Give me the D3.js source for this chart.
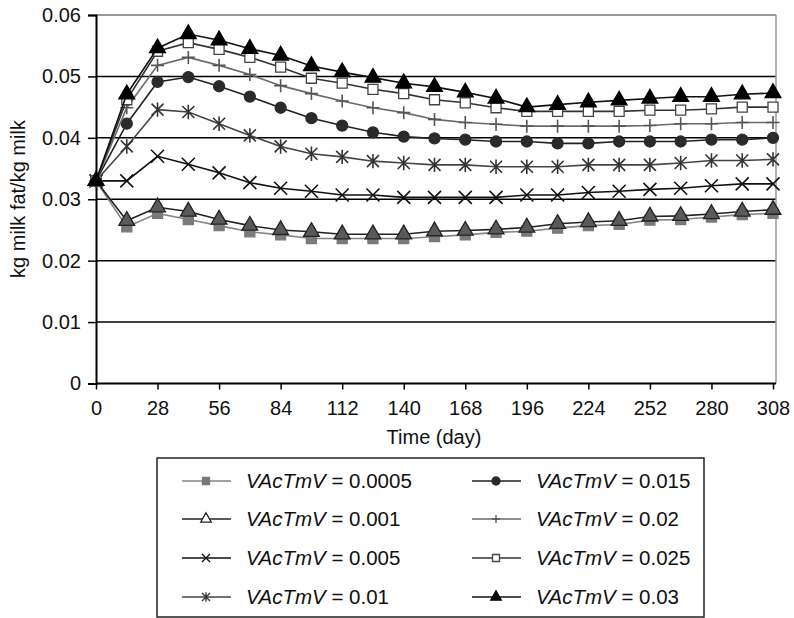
<!DOCTYPE html>
<html><head><meta charset="utf-8">
<script src="https://cdn.jsdelivr.net/npm/d3@7"></script>
<style>body{margin:0;background:#fff}svg{display:block}text{font-family:"Liberation Sans",Arial,sans-serif;fill:#111}</style>
</head><body><svg id="c" width="794" height="618"></svg>
<script>
const days = [0,14,28,42,56,70,84,98,112,126,140,154,168,182,196,210,224,238,252,266,280,294,308];
const xTicks = [0,28,56,84,112,140,168,196,224,252,280,308];
const yTicks = [0,0.01,0.02,0.03,0.04,0.05,0.06];
const seriesNames = ["0.0005","0.001","0.005","0.01","0.015","0.02","0.025","0.03"];
const s0005 = [0.0330,0.0255,0.0277,0.0267,0.0257,0.0247,0.0242,0.0236,0.0236,0.0236,0.0236,0.0239,0.0242,0.0246,0.0248,0.0253,0.0257,0.0259,0.0266,0.0267,0.0271,0.0275,0.0277];
const s001  = [0.0330,0.0265,0.0287,0.0280,0.0267,0.0257,0.0250,0.0247,0.0243,0.0243,0.0243,0.0248,0.0249,0.0251,0.0254,0.0260,0.0263,0.0265,0.0272,0.0273,0.0276,0.0280,0.0283];
const s005  = [0.0330,0.0330,0.0370,0.0357,0.0343,0.0327,0.0318,0.0313,0.0307,0.0307,0.0303,0.0303,0.0303,0.0303,0.0307,0.0307,0.0311,0.0313,0.0316,0.0318,0.0322,0.0325,0.0325];
const s01   = [0.0330,0.0386,0.0446,0.0442,0.0423,0.0404,0.0386,0.0374,0.0369,0.0362,0.0359,0.0356,0.0356,0.0353,0.0353,0.0353,0.0356,0.0356,0.0356,0.0359,0.0363,0.0363,0.0365];
const s015  = [0.0330,0.0423,0.0491,0.0499,0.0484,0.0467,0.0449,0.0432,0.0420,0.0409,0.0402,0.0399,0.0397,0.0394,0.0394,0.0391,0.0391,0.0394,0.0394,0.0394,0.0397,0.0397,0.0400];
const s02   = [0.0330,0.0449,0.0518,0.0531,0.0518,0.0503,0.0485,0.0472,0.0460,0.0449,0.0441,0.0430,0.0425,0.0422,0.0419,0.0419,0.0419,0.0419,0.0420,0.0423,0.0423,0.0425,0.0425];
const s025  = [0.0330,0.0462,0.0541,0.0555,0.0544,0.0531,0.0515,0.0497,0.0489,0.0479,0.0472,0.0462,0.0457,0.0449,0.0443,0.0443,0.0443,0.0443,0.0445,0.0445,0.0447,0.0450,0.0450];
const s03   = [0.0330,0.0471,0.0546,0.0569,0.0559,0.0545,0.0534,0.0517,0.0507,0.0498,0.0489,0.0483,0.0474,0.0464,0.0450,0.0454,0.0458,0.0461,0.0464,0.0467,0.0467,0.0471,0.0473];

const values = [s0005,s001,s005,s01,s015,s02,s025,s03];
const styles = [
  {line:"#858585", marker:"fsquare", fill:"#7a7a7a", stroke:"#7a7a7a", lfill:"#7a7a7a"},
  {line:"#222", marker:"triangle", fill:"#5a5a5a", stroke:"#222", lfill:"#fff"},
  {line:"#111", marker:"x", fill:"none", stroke:"#111"},
  {line:"#444", marker:"asterisk", fill:"none", stroke:"#333"},
  {line:"#222", marker:"circle", fill:"#2a2a2a", stroke:"#2a2a2a", lfill:"#2a2a2a"},
  {line:"#6a6a6a", marker:"plus", fill:"none", stroke:"#555"},
  {line:"#333", marker:"osquare", fill:"#fff", stroke:"#444", lfill:"#fff"},
  {line:"#111", marker:"triangle", fill:"#000", stroke:"#000", lfill:"#000"}
];

const svg = d3.select("#c");
const x = d3.scaleLinear().domain([0,308]).range([96,773]);
const y = d3.scaleLinear().domain([0,0.06]).range([383.5,15]);

// gridlines
svg.append("g").selectAll("line").data(yTicks.filter(d=>d>0)).join("line")
  .attr("x1",96).attr("x2",776).attr("y1",d=>y(d)).attr("y2",d=>y(d))
  .attr("stroke",d=>d===0.06?"#999":"#000").attr("stroke-width",d=>d===0.06?2:1.5);
// right border
svg.append("line").attr("x1",776).attr("x2",776).attr("y1",y(0.06)).attr("y2",y(0)).attr("stroke","#999").attr("stroke-width",1.5);

// axes
const yAxis = svg.append("g").attr("transform","translate(96,0)")
  .call(d3.axisLeft(y).tickValues(yTicks).tickFormat(d=>d===0?"0":d3.format(".2f")(d)).tickSize(8).tickPadding(7));
const xAxis = svg.append("g").attr("transform",`translate(0,${y(0)})`)
  .call(d3.axisBottom(x).tickValues(xTicks).tickSize(6).tickPadding(11));
[yAxis,xAxis].forEach(a=>{
  a.select(".domain").attr("stroke","#000").attr("stroke-width",2);
  a.selectAll(".tick line").attr("stroke","#000").attr("stroke-width",1.5);
  a.selectAll(".tick text").attr("font-size",20).attr("fill","#111").attr("font-family","Liberation Sans, Arial, sans-serif");
});
xAxis.select(".domain").attr("d",`M96,0H776`);

// titles
svg.append("text").attr("x",434).attr("y",444).attr("text-anchor","middle").attr("font-size",20).text("Time (day)");
svg.append("text").attr("transform","translate(25,199) rotate(-90)").attr("text-anchor","middle").attr("font-size",20).text("kg milk fat/kg milk");

function markerPath(type, s){
  const h = s/2;
  switch(type){
    case "x": return `M${-h},${-h}L${h},${h}M${-h},${h}L${h},${-h}`;
    case "plus": return `M${-h},0L${h},0M0,${-h}L0,${h}`;
    case "asterisk": return `M${-h},${-h}L${h},${h}M${-h},${h}L${h},${-h}M0,${-h*1.2}L0,${h*1.2}`;
    case "triangle": return d3.symbol(d3.symbolTriangle, s*s*0.48)();
    case "circle": return d3.symbol(d3.symbolCircle, Math.PI*h*h)();
    default: return `M${-h},${-h}H${h}V${h}H${-h}Z`;
  }
}
const sizes = {fsquare:10, osquare:10, triangle:15, circle:11, x:13, plus:13, asterisk:12};
const lsizes = {fsquare:7, osquare:7, triangle:10, circle:8, x:8, plus:8, asterisk:8};

const line = d3.line().x((d,i)=>x(days[i])).y(d=>y(d));
values.forEach((vals,k)=>{
  const st = styles[k];
  const g = svg.append("g");
  g.append("path").attr("d",line(vals)).attr("fill","none").attr("stroke",st.line).attr("stroke-width",1.6);
  g.selectAll("path.m").data(vals).join("path").attr("class","m")
    .attr("transform",(d,i)=>`translate(${x(days[i])},${y(d)})`)
    .attr("d",markerPath(st.marker,sizes[st.marker]))
    .attr("fill",st.fill).attr("stroke",st.stroke).attr("stroke-width",st.marker==="x"||st.marker==="plus"||st.marker==="asterisk"?1.6:1.3);
});

// legend
const lg = svg.append("g");
lg.append("rect").attr("x",157).attr("y",458).attr("width",547).attr("height",159).attr("fill","#fff").attr("stroke","#222").attr("stroke-width",1.5);
const rowY = [481,519,558,597];
seriesNames.forEach((n,k)=>{
  const st = styles[k];
  const col = Math.floor(k/4), row = k%4;
  const lx = col===0?182:472, ly = rowY[row];
  lg.append("line").attr("x1",lx).attr("x2",lx+49).attr("y1",ly).attr("y2",ly).attr("stroke",st.line).attr("stroke-width",1.6);
  lg.append("path").attr("transform",`translate(${lx+24},${ly})`).attr("d",markerPath(st.marker,lsizes[st.marker]))
    .attr("fill",st.lfill||"none").attr("stroke",st.stroke).attr("stroke-width",1.3);
  const t = lg.append("text").attr("x",col===0?246:536).attr("y",ly+7).attr("font-size",20.5);
  t.append("tspan").attr("font-style","italic").text("VAcTmV");
  t.append("tspan").text(" = " + n);
});
</script></body></html>
